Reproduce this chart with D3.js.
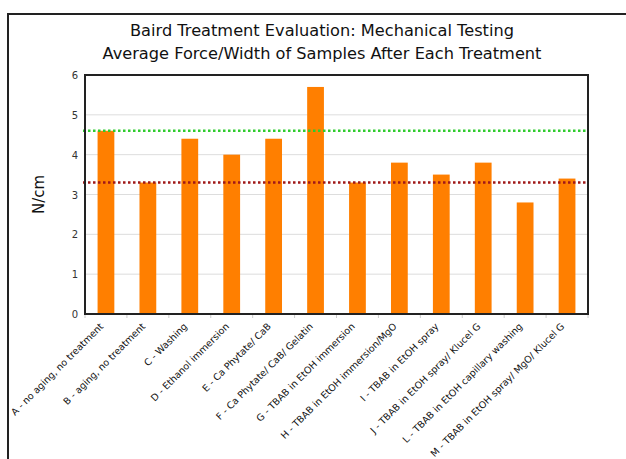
<html>
<head>
<script src="https://d3js.org/d3.v7.min.js"></script>
<style>
  body { margin: 0; background: #fff; }
  text { font-family: "DejaVu Sans", sans-serif; }
</style>
</head>
<body>
<svg id="chart" width="626" height="459"></svg>
<script>
const categories = [
  "A - no aging, no treatment",
  "B - aging, no treatment",
  "C - Washing",
  "D - Ethanol immersion",
  "E - Ca Phytate/ CaB",
  "F - Ca Phytate/ CaB/ Gelatin",
  "G - TBAB in EtOH immersion",
  "H - TBAB in EtOH immersion/MgO",
  "I - TBAB in EtOH spray",
  "J - TBAB in EtOH spray/ Klucel G",
  "L - TBAB in EtOH capillary washing",
  "M - TBAB in EtOH spray/ MgO/ Klucel G"
];
const forceValues = [4.6, 3.3, 4.4, 4.0, 4.4, 5.7, 3.3, 3.8, 3.5, 3.8, 2.8, 3.4];
const refLines = [4.6, 3.3];
const refColors = ["#2ecc2e", "#a01818"];
const yTicks = [0, 1, 2, 3, 4, 5, 6];
const titleLines = ["Baird Treatment Evaluation: Mechanical Testing",
                    "Average Force/Width of Samples After Each Treatment"];

const svg = d3.select('#chart');
const pLeft = 85, pRight = 588, pTop = 75, pBottom = 314;

// outer frame
svg.append('rect')
  .attr('x', 8).attr('y', 14)
  .attr('width', 640).attr('height', 480)
  .attr('fill', 'none').attr('stroke', '#222').attr('stroke-width', 2);

svg.selectAll('text.title').data(titleLines).enter()
  .append('text')
  .attr('class', 'title')
  .attr('x', 322)
  .attr('y', (d, i) => 36 + i * 23)
  .attr('text-anchor', 'middle')
  .attr('font-size', 16.2)
  .attr('fill', '#111')
  .text(d => d);

const x = d3.scaleBand().domain(categories).range([pLeft, pRight]).paddingInner(0.6).paddingOuter(0.3);
const xb = d3.scaleBand().domain(categories).range([pLeft, pRight]);
const y = d3.scaleLinear().domain([0, 6]).range([pBottom, pTop]);

// gridlines
svg.append('g')
  .selectAll('line').data(yTicks.slice(1, -1)).enter()
  .append('line')
  .attr('x1', pLeft).attr('x2', pRight)
  .attr('y1', d => y(d)).attr('y2', d => y(d))
  .attr('stroke', '#ddd').attr('stroke-width', 1);

// y axis labels
svg.append('g')
  .selectAll('text').data(yTicks).enter()
  .append('text')
  .attr('x', pLeft - 7)
  .attr('y', d => y(d) + 4)
  .attr('text-anchor', 'end')
  .attr('font-size', 10)
  .attr('fill', '#333')
  .text(d => d);

svg.append('text')
  .attr('transform', `translate(44,${(pTop + pBottom) / 2}) rotate(-90)`)
  .attr('text-anchor', 'middle')
  .attr('font-size', 15)
  .attr('fill', '#111')
  .text('N/cm');

// bars
svg.append('g')
  .selectAll('rect').data(forceValues).enter()
  .append('rect')
  .attr('x', (d, i) => x(categories[i]))
  .attr('width', x.bandwidth())
  .attr('y', d => y(d))
  .attr('height', d => y(0) - y(d))
  .attr('fill', '#ff7f00');

// reference lines
svg.append('g')
  .selectAll('line').data(refLines).enter()
  .append('line')
  .attr('x1', pLeft - 2).attr('x2', pRight)
  .attr('y1', d => y(d)).attr('y2', d => y(d))
  .attr('stroke', (d, i) => refColors[i])
  .attr('stroke-width', 2.5)
  .attr('stroke-dasharray', '2.5,2.5');

// x ticks at band edges
svg.append('g')
  .selectAll('line').data(d3.range(categories.length + 1)).enter()
  .append('line')
  .attr('x1', i => pLeft + i * xb.step()).attr('x2', i => pLeft + i * xb.step())
  .attr('y1', pBottom).attr('y2', pBottom + 4)
  .attr('stroke', '#ccc');

// plot frame
svg.append('rect')
  .attr('x', pLeft).attr('y', pTop)
  .attr('width', pRight - pLeft).attr('height', pBottom - pTop)
  .attr('fill', 'none').attr('stroke', '#222').attr('stroke-width', 2);

// x labels
svg.append('g')
  .selectAll('text').data(categories).enter()
  .append('text')
  .attr('transform', d => `translate(${xb(d) + xb.bandwidth() / 2 - 2},${pBottom + 13}) rotate(-45)`)
  .attr('text-anchor', 'end')
  .attr('font-size', 9.5)
  .attr('fill', '#111')
  .text(d => d);
</script>
</body>
</html>
